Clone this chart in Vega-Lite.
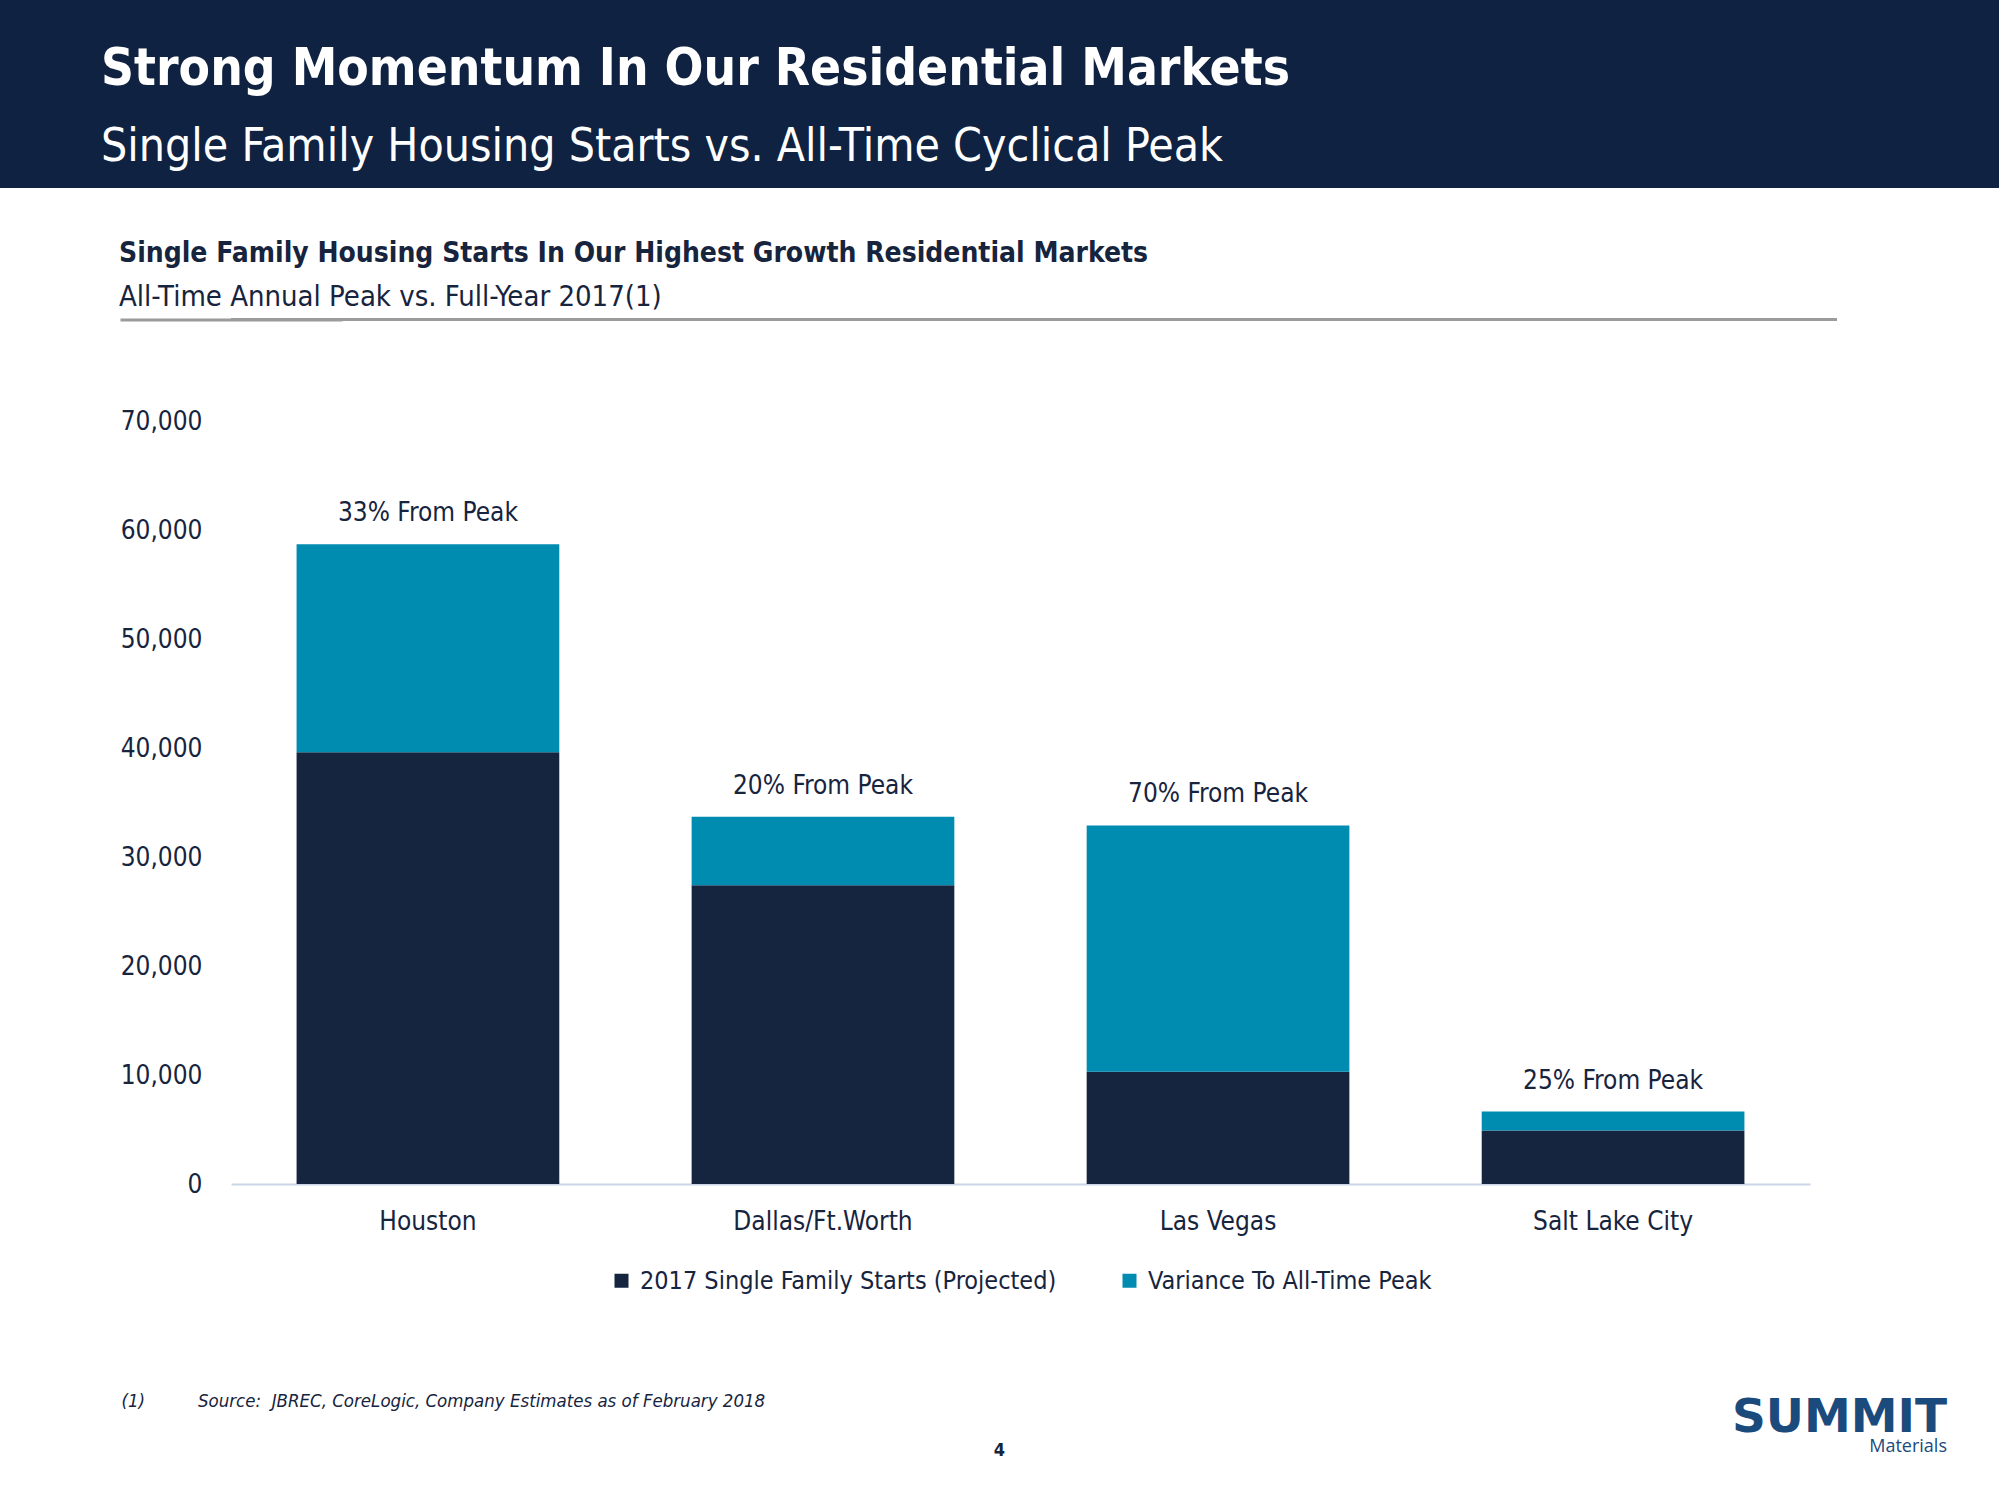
{
  "$schema": "https://vega.github.io/schema/vega-lite/v6.json",
  "padding": 0,
  "background": "white",
  "config": {
    "view": {"stroke": null},
    "font": "DejaVu Sans Condensed",
    "title": {"font": "DejaVu Sans Condensed", "subtitleFont": "DejaVu Sans Condensed"},
    "axis": {"labelFont": "DejaVu Sans Condensed", "titleFont": "DejaVu Sans Condensed"},
    "legend": {"labelFont": "DejaVu Sans Condensed", "layout": {"bottom": {"anchor": "middle"}}}
  },
  "datasets": {
    "bars": [
      {"city": "Houston", "series": "2017 Single Family Starts (Projected)", "value": 39600},
      {"city": "Houston", "series": "Variance To All-Time Peak", "value": 19100},
      {"city": "Dallas/Ft.Worth", "series": "2017 Single Family Starts (Projected)", "value": 27400},
      {"city": "Dallas/Ft.Worth", "series": "Variance To All-Time Peak", "value": 6300},
      {"city": "Las Vegas", "series": "2017 Single Family Starts (Projected)", "value": 10300},
      {"city": "Las Vegas", "series": "Variance To All-Time Peak", "value": 22600},
      {"city": "Salt Lake City", "series": "2017 Single Family Starts (Projected)", "value": 4900},
      {"city": "Salt Lake City", "series": "Variance To All-Time Peak", "value": 1750}
    ],
    "labels": [
      {"city": "Houston", "peak": 58700, "label": "33% From Peak"},
      {"city": "Dallas/Ft.Worth", "peak": 33700, "label": "20% From Peak"},
      {"city": "Las Vegas", "peak": 32900, "label": "70% From Peak"},
      {"city": "Salt Lake City", "peak": 6650, "label": "25% From Peak"}
    ]
  },
  "columns": 1,
  "align": "none",
  "spacing": 52,
  "concat": [
    {
      "width": 1768,
      "height": 188,
      "view": {"fill": "#0f2241", "stroke": null},
      "data": {"values": []},
      "mark": "point",
      "encoding": {
        "y": {"field": "v", "type": "quantitative", "scale": {"domain": [0, 1]},
          "axis": {"title": null, "labels": false, "ticks": false, "grid": false, "domain": true, "translate": 0, "domainColor": "#0f2241", "domainWidth": 464, "domainCap": "butt", "minExtent": 0, "maxExtent": 232}}
      },
      "title": {
        "text": "Strong Momentum In Our Residential Markets",
        "subtitle": "Single Family Housing Starts vs. All-Time Cyclical Peak",
        "anchor": "start", "frame": "group", "orient": "top",
        "offset": -171, "dx": -130,
        "fontSize": 51, "fontWeight": "bold", "color": "#ffffff",
        "subtitleFontSize": 46, "subtitleFontWeight": "normal", "subtitleColor": "#ffffff",
        "subtitlePadding": 29
      }
    },
    {
      "columns": 1,
      "align": "none",
      "spacing": 87,
      "concat": [
        {
          "width": 1606,
          "height": 3,
          "view": {"fill": "#9b9b9b", "stroke": null},
          "data": {"values": []},
          "mark": "point",
          "encoding": {
            "y": {"field": "v", "type": "quantitative", "scale": {"domain": [0, 1]},
              "axis": {"title": null, "labels": false, "ticks": false, "grid": false, "domain": true, "domainColor": "#9b9b9b", "domainWidth": 222, "domainCap": "butt", "minExtent": 0, "maxExtent": 112}}
          },
          "title": {
            "text": "Single Family Housing Starts In Our Highest Growth Residential Markets",
            "subtitle": "All-Time Annual Peak vs. Full-Year 2017(1)",
            "anchor": "start", "frame": "group", "orient": "top", "offset": 6, "dx": -112,
            "fontSize": 28, "fontWeight": "bold", "color": "#17243e",
            "subtitleFontSize": 29, "subtitleFontWeight": "normal", "subtitleColor": "#17243e",
            "subtitlePadding": 15
          }
        },
        {
          "columns": 1,
          "align": "none",
          "spacing": 77,
          "resolve": {"scale": {"color": "independent"}, "legend": {"color": "independent"}},
          "concat": [
            {
              "width": 1579,
              "height": 763,
              "data": {"name": "bars"},
              "layer": [
                {
                  "mark": {"type": "bar"},
                  "encoding": {
                    "x": {"field": "city", "type": "nominal", "sort": ["Houston", "Dallas/Ft.Worth", "Las Vegas", "Salt Lake City"],
                      "scale": {"paddingInner": 0.335, "paddingOuter": 0.166},
                      "axis": {"title": null, "labelAngle": 0, "labelFontSize": 26, "labelColor": "#17243e", "labelPadding": 24, "labelLimit": 500, "ticks": false, "grid": false, "domain": true, "domainColor": "#c9d6e6", "domainWidth": 2}},
                    "y": {"field": "value", "type": "quantitative", "stack": "zero", "scale": {"domain": [0, 70000], "nice": false},
                      "axis": {"title": null, "values": [0, 10000, 20000, 30000, 40000, 50000, 60000, 70000], "format": ",d", "labelFontSize": 26, "labelColor": "#17243e", "labelPadding": 29, "ticks": false, "domain": false, "grid": false, "minExtent": 231, "maxExtent": 231}},
                    "color": {"field": "series", "type": "nominal",
                      "scale": {"domain": ["2017 Single Family Starts (Projected)", "Variance To All-Time Peak"], "range": ["#16253f", "#008bb1"]},
                      "legend": {"orient": "bottom", "direction": "horizontal", "title": null, "gridAlign": "all", "symbolType": "square", "symbolSize": 196, "symbolStrokeWidth": 0, "labelFontSize": 25, "labelColor": "#17243e", "labelOffset": 6, "columnPadding": 60, "offset": 34, "labelLimit": 0}},
                    "order": {"field": "series", "sort": "ascending"}
                  }
                },
                {
                  "data": {"name": "labels"},
                  "mark": {"type": "text", "baseline": "middle", "dy": -31, "fontSize": 26, "color": "#17243e"},
                  "encoding": {
                    "x": {"field": "city", "type": "nominal", "sort": ["Houston", "Dallas/Ft.Worth", "Las Vegas", "Salt Lake City"]},
                    "y": {"field": "peak", "type": "quantitative"},
                    "text": {"field": "label"}
                  }
                }
              ]
            },
            {
              "width": 1536,
              "height": 70,
              "data": {"values": []},
              "mark": "point",
              "title": {
                "text": "SUMMIT", "subtitle": "Materials",
                "anchor": "end", "frame": "group", "orient": "top", "offset": -86, "dx": 180,
                "font": "DejaVu Sans", "fontSize": 47, "fontWeight": "bold", "color": "#1b4a7c",
                "subtitleFont": "Open Sans", "subtitleFontSize": 18, "subtitleColor": "#1b4a7c", "subtitlePadding": -4
              },
              "encoding": {
                "x": {"field": "v", "type": "quantitative", "scale": {"domain": [0, 1]},
                  "axis": {"orient": "bottom", "title": "4", "labels": false, "ticks": false, "domain": false, "grid": false, "titleFontSize": 18, "titleFontWeight": "bold", "titleColor": "#17243e", "titlePadding": 0, "minExtent": 0, "maxExtent": 0}},
                "y": {"field": "v", "type": "quantitative", "scale": {"domain": [0, 1]},
                  "axis": {"title": "(1)\u00a0\u00a0\u00a0\u00a0\u00a0\u00a0\u00a0\u00a0\u00a0\u00a0Source:\u00a0\u00a0JBREC, CoreLogic, Company Estimates as of February 2018", "titleAngle": 0, "titleAlign": "left", "titleBaseline": "alphabetic", "titleFontSize": 18.5, "titleFontStyle": "italic", "titleFontWeight": "normal", "titleColor": "#17243e", "titlePadding": 0, "labels": false, "ticks": false, "domain": false, "grid": false, "minExtent": 110, "maxExtent": 110}}
              }
            }
          ]
        }
      ]
    }
  ]
}
